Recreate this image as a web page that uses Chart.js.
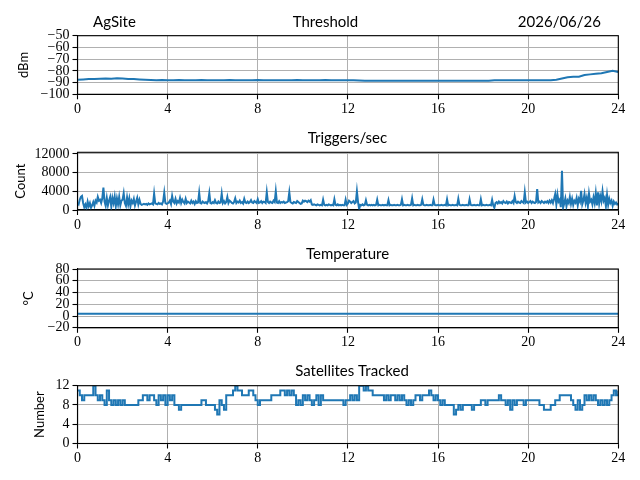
<!DOCTYPE html>
<html>
<head>
<meta charset="utf-8">
<script src="https://cdn.jsdelivr.net/npm/chart.js@4/dist/chart.umd.min.js"></script>
<style>
  html, body { margin: 0; padding: 0; background: #fff; }
  #wrap { position: relative; width: 640px; height: 480px; overflow: hidden; }
  canvas { position: absolute; left: 0; }
</style>
</head>
<body>
<div id="wrap">
  <canvas id="c1" width="640" height="117" style="top:0px"></canvas>
  <canvas id="c2" width="640" height="117" style="top:117px"></canvas>
  <canvas id="c3" width="640" height="117" style="top:233px"></canvas>
  <canvas id="c4" width="640" height="130" style="top:350px"></canvas>
</div>
<script>
// ---------------- DATA ----------------
const hourTicks = [0, 4, 8, 12, 16, 20, 24];

// Threshold (dBm), one sample every 0.25 h from 0 to 24
const thresholdStep = 0.25;
const thresholdValues = [
  -87.5,-87.3,-87.0,-87.0,-86.8,-86.5,-86.8,-86.3,-86.5,-87.0,-87.0,-87.3,
  -87.5,-87.8,-88.0,-87.8,-88.0,-88.0,-87.8,-88.0,-88.0,-88.0,-87.8,-88.0,
  -88.0,-88.0,-88.0,-87.8,-88.0,-88.0,-88.0,-88.0,-87.8,-88.0,-88.0,-88.0,
  -88.0,-88.0,-88.0,-87.8,-88.0,-88.0,-88.0,-88.0,-87.8,-88.0,-88.0,-88.0,
  -88.0,-88.0,-88.3,-88.5,-88.5,-88.5,-88.5,-88.5,-88.5,-88.5,-88.5,-88.5,
  -88.5,-88.5,-88.5,-88.5,-88.5,-88.5,-88.5,-88.5,-88.5,-88.5,-88.5,-88.5,
  -88.5,-88.5,-88.0,-88.0,-88.0,-88.0,-88.0,-88.0,-88.0,-88.0,-88.0,-88.0,
  -88.0,-87.5,-86.5,-85.5,-85.0,-85.0,-83.5,-83.0,-82.5,-82.0,-81.0,-80.0,
  -81.0
];
const thresholdTicks = [-100, -90, -80, -70, -60, -50];

// Triggers/sec (count), one sample every 0.05 h
const triggerStep = 0.05;
const triggerValues = [
  1500,1200,2200,2800,3000,1500,600,1200,400,1800,800,1500,500,1000,1700,900,2000,1600,2800,2000,
  2200,1500,2500,4800,1800,900,2600,1000,2000,2800,700,2600,1500,2900,800,2500,1200,2800,1000,2000,
  2200,3600,1500,900,2700,1200,2500,800,2000,1500,2400,1000,1800,2600,1200,2200,1300,1100,1200,1300,
  1200,1300,1100,1400,1200,1300,1400,1200,3500,1400,1300,1200,1500,1300,1400,1200,1800,3700,1500,1300,
  1400,1600,2000,1300,3000,1800,1500,2400,1400,1900,1600,2600,1500,2200,1700,1400,2400,1500,1800,1600,
  1400,2000,1500,1800,1300,1900,1500,1600,3700,1500,1400,1800,1600,1500,1700,1400,1900,3600,1500,1400,
  1700,1500,2100,1500,1400,1800,1500,1600,3500,1500,1900,1400,1700,2800,1500,2000,1800,1500,1400,1700,
  2500,1500,1800,1600,2000,1500,1700,1400,2400,1600,1500,1800,1500,1700,2100,1600,1500,1900,1700,1500,
  2300,1500,1600,1900,1500,1800,1700,1500,3800,1700,1500,1800,1600,1500,2000,1700,4000,1600,1500,1900,
  1500,1700,1600,1800,1500,1600,1700,1900,3800,1700,1500,1400,1700,1600,1500,1900,1700,1500,1300,1400,
  2000,1800,2000,1900,1700,2000,1800,2100,1200,1100,1200,1100,1000,1200,1100,1000,1100,1000,2200,1100,
  1000,1100,1000,1200,1100,1000,1100,1000,2300,1100,1000,1200,1000,1100,1000,1100,1000,1000,2200,1100,
  1400,2000,1800,1500,1700,1900,1400,1600,4000,1700,200,1100,1000,1200,1000,1100,2100,1100,1000,1100,
  1000,1100,1000,1100,1000,1100,2200,1000,1100,1000,1000,1100,1000,1100,1000,1000,2100,1000,1100,1000,
  1000,1100,1000,1000,1100,1000,1000,1100,2300,1000,1100,1000,1000,1100,1000,1000,1100,2500,1000,1100,
  1000,1000,1100,1000,1000,1100,2300,1100,1000,1000,1100,1000,1000,1100,1000,1000,2200,1100,1000,1000,
  1100,1000,1000,1100,1000,1000,1100,1000,2300,1000,1100,1000,1000,1100,1000,1000,1100,1000,2400,1100,
  1000,1000,1100,1000,1000,1100,1000,1000,2300,1100,1000,1000,1100,1000,1000,1100,1000,1000,2300,1000,
  1100,1000,1000,1100,1000,1000,1100,1000,2200,1000,500,1500,1700,1400,1800,1500,1700,1400,1900,1600,
  1500,1800,1400,1700,1600,1500,1900,1500,3000,1700,1500,1800,1600,1500,1900,1700,1500,3800,1600,1800,
  1500,1700,1900,1500,1800,1600,1500,1700,4500,1600,1800,1500,1900,1700,1500,1800,1600,1900,1500,2000,
  1600,2100,1500,2400,3400,1200,3300,1800,2200,600,8400,500,1400,2500,800,2000,1500,2800,1300,2400,
  1100,2000,1600,2600,1000,2400,1800,4100,1200,2000,3400,1500,2600,800,3500,1800,2200,1200,2700,1500,
  3600,1000,3800,1400,3000,1900,4000,2000,2600,800,3200,1100,2400,1500,2000,900,1800,1300,1600,1200,
  1400
];
const triggerTicks = [0, 4000, 8000, 12000];

// Temperature (°C), one sample every 0.5 h
const temperatureStep = 0.5;
const temperatureValues = [
  4,4,4,4,4,4,4,4,4,4,4,4,4,4,4,4,4,4,4,4,4,4,4,4,4,
  4,4,4,4,4,4,4,4,4,4,4,4,4,4,4,4,4,4,4,4,4,4,4,4
];
const temperatureTicks = [-20, 0, 20, 40, 60, 80];

// Satellites tracked, one sample every 0.1 h
const satelliteStep = 0.1;
const satelliteValues = [
  11,10,9,10,10,10,10,12,10,9,
  10,9,8,11,9,8,9,8,9,8,
  9,8,8,8,8,8,8,9,9,10,
  10,9,10,10,9,8,10,9,10,8,
  10,9,10,8,8,7,8,8,8,8,
  8,8,8,8,8,9,9,8,8,8,
  8,7,6,9,8,7,10,10,10,11,
  12,11,11,10,10,10,11,11,10,9,
  8,9,9,9,9,9,10,10,10,10,
  11,11,10,11,10,11,10,8,9,8,
  10,9,10,9,8,9,10,8,10,9,
  9,9,9,9,9,9,9,9,8,9,
  9,10,9,10,9,12,12,11,12,11,
  11,10,10,10,10,10,9,10,9,10,
  10,9,10,9,10,9,8,9,8,9,
  10,10,9,10,10,10,11,10,9,10,
  9,8,9,8,8,8,8,6,7,8,
  7,8,8,8,8,7,8,8,8,9,
  9,8,9,9,9,9,9,10,9,9,
  8,9,7,9,8,9,9,9,8,9,
  9,9,9,9,9,8,8,7,7,7,
  8,8,9,9,10,10,10,10,10,9,
  8,7,9,7,8,10,9,10,9,10,
  9,8,9,8,9,8,9,10,11,10,
  11
];
const satelliteTicks = [0, 4, 8, 12];

// ---------------- STYLE ----------------
const LINE = '#1f77b4';
const GRID = '#b0b0b0';
const SERIF = '"Liberation Serif", "DejaVu Serif", serif';
const SANS = 'Lato, "Open Sans", "DejaVu Sans", sans-serif';
const TICK_FONT = { family: SERIF, size: 14, style: 'normal', weight: 'normal', lineHeight: 1.0 };

function toPoints(values, step) {
  return values.map((v, i) => ({ x: i * step, y: v }));
}
function minusFmt(v) { return String(v).replace('-', '\u2212'); }

const spinesPlugin = {
  id: 'spines',
  afterDatasetsDraw(chart) {
    const a = chart.chartArea, ctx = chart.ctx;
    ctx.save();
    ctx.strokeStyle = '#000';
    ctx.lineWidth = 1.1;
    ctx.strokeRect(a.left, a.top, a.right - a.left, a.bottom - a.top);
    ctx.restore();
  }
};

const titlesPlugin = {
  id: 'titles',
  afterDraw(chart, args, opts) {
    const ctx = chart.ctx, a = chart.chartArea;
    ctx.save();
    ctx.fillStyle = '#000';
    ctx.font = '15px ' + SANS;
    ctx.textBaseline = 'middle';
    (opts.items || []).forEach(it => {
      ctx.textAlign = it.align;
      ctx.fillText(it.text, it.x, a.top + it.dy);
    });
    ctx.restore();
  }
};

function makeChart(id, cfg) {
  const yLeft = cfg.yLeft;
  const plotLeft = 77.5, plotRight = 618.3;
  return new Chart(document.getElementById(id), {
    type: 'line',
    data: {
      datasets: [{
        data: toPoints(cfg.values, cfg.step),
        borderColor: LINE,
        backgroundColor: LINE,
        borderWidth: 2,
        pointRadius: 0,
        tension: 0,
        stepped: cfg.stepped || false,
        fill: false
      }]
    },
    options: {
      responsive: false,
      animation: false,
      events: [],
      layout: {
        padding: { left: yLeft, right: 640 - plotRight, top: cfg.padTop, bottom: cfg.padBottom }
      },
      plugins: {
        legend: { display: false },
        tooltip: { enabled: false },
        title: { display: false },
        titles: { items: cfg.titles }
      },
      scales: {
        x: {
          type: 'linear',
          min: 0, max: 24,
          afterBuildTicks: s => { s.ticks = hourTicks.map(v => ({ value: v })); },
          afterFit: s => { s.height = 20; },
          ticks: { color: '#000', font: TICK_FONT, padding: 3, maxRotation: 0, autoSkip: false, callback: v => minusFmt(v) },
          grid: { color: GRID, lineWidth: 1, tickColor: '#000', tickLength: 5, tickWidth: 1.1, drawTicks: true },
          border: { display: true, color: '#000', width: 1.1 }
        },
        y: {
          type: 'linear',
          min: cfg.yMin, max: cfg.yMax,
          afterBuildTicks: s => { s.ticks = cfg.yTicks.map(v => ({ value: v })); },
          afterFit: s => { s.width = plotLeft - yLeft; },
          ticks: { color: '#000', font: TICK_FONT, padding: 3, autoSkip: false, callback: v => minusFmt(v) },
          grid: { color: GRID, lineWidth: 1, tickColor: '#000', tickLength: 5, tickWidth: 1.1, drawTicks: true },
          border: { display: true, color: '#000', width: 1.1 },
          title: {
            display: true, text: cfg.yTitle, color: '#000',
            font: { family: SANS, size: 13 }, padding: 0
          }
        }
      }
    },
    plugins: [spinesPlugin, titlesPlugin]
  });
}

makeChart('c1', {
  values: thresholdValues, step: thresholdStep,
  yMin: -100, yMax: -50, yTicks: thresholdTicks, yTitle: 'dBm',
  yLeft: 16, padTop: 35.7, padBottom: 2.7,
  titles: [
    { text: 'AgSite', x: 93, align: 'left', dy: -14 },
    { text: 'Threshold', x: 325.5, align: 'center', dy: -14 },
    { text: '2026/06/26', x: 601, align: 'right', dy: -14 }
  ]
});
makeChart('c2', {
  values: triggerValues, step: triggerStep,
  yMin: 0, yMax: 12360, yTicks: triggerTicks, yTitle: 'Count',
  yLeft: 13, padTop: 35.3, padBottom: 4.0,
  titles: [{ text: 'Triggers/sec', x: 347.5, align: 'center', dy: -14 }]
});
makeChart('c3', {
  values: temperatureValues, step: temperatureStep,
  yMin: -20, yMax: 80, yTicks: temperatureTicks, yTitle: '\u00B0C',
  yLeft: 21.5, padTop: 36, padBottom: 2.2,
  titles: [{ text: 'Temperature', x: 347.5, align: 'center', dy: -15 }]
});
makeChart('c4', {
  values: satelliteValues, step: satelliteStep, stepped: true,
  yMin: 0, yMax: 12, yTicks: satelliteTicks, yTitle: 'Number',
  yLeft: 32.5, padTop: 35.7, padBottom: 16.5,
  titles: [{ text: 'Satellites Tracked', x: 352, align: 'center', dy: -15 }]
});
</script>
</body>
</html>
